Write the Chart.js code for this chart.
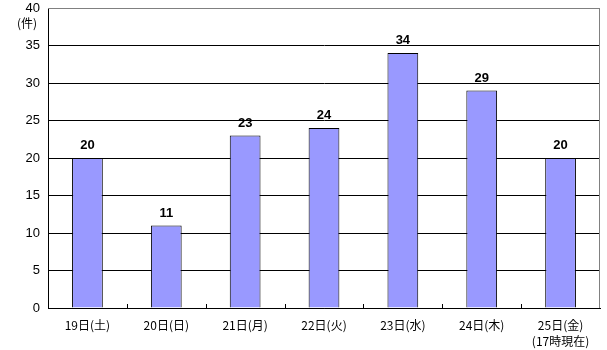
<!DOCTYPE html>
<html>
<head>
<meta charset="utf-8">
<script src="https://cdn.jsdelivr.net/npm/chart.js@4"></script>
<style>
  html, body { margin: 0; padding: 0; background: #fff; }
  #wrap { width: 607px; height: 350px; }
</style>
</head>
<body>
<div id="wrap"><canvas id="countChart" width="607" height="350"></canvas></div>
<script>
// 日別件数
var days = ['19日(土)', '20日(日)', '21日(月)', '22日(火)', '23日(水)', '24日(木)', ['25日(金)', '(17時現在)']];
var counts = [20, 11, 23, 24, 34, 29, 20];
var yTicks = [0, 5, 10, 15, 20, 25, 30, 35, 40];

var jpFont = "'Noto Sans CJK JP', 'DejaVu Sans', sans-serif";

// 棒の上の数値 + 枠線 + 単位
var extras = {
    id: 'extras',
    afterDatasetsDraw: function(chart) {
        var ctx = chart.ctx;
        var area = chart.chartArea;
        var meta = chart.getDatasetMeta(0);
        ctx.save();
        ctx.fillStyle = '#000';
        ctx.font = 'bold 13px "Liberation Sans", Arial, sans-serif';
        ctx.textAlign = 'center';
        ctx.textBaseline = 'bottom';
        meta.data.forEach(function(bar, i) {
            ctx.fillText(counts[i], bar.x, bar.y - 6);
        });

        // 上と右の枠
        ctx.strokeStyle = '#808080';
        ctx.lineWidth = 1;
        ctx.beginPath();
        ctx.moveTo(area.left, area.top + 0.5);
        ctx.lineTo(area.right - 0.5, area.top + 0.5);
        ctx.lineTo(area.right - 0.5, area.bottom);
        ctx.stroke();

        // x軸の目盛り(内向き)
        var step = (area.right - area.left) / days.length;
        ctx.strokeStyle = '#000';
        ctx.beginPath();
        for (var k = 1; k < days.length; k++) {
            var px = Math.round(area.left + step * k) + 0.5;
            ctx.moveTo(px, area.bottom);
            ctx.lineTo(px, area.bottom - 4);
        }
        ctx.stroke();

        // 単位
        ctx.font = '12px ' + jpFont;
        ctx.textAlign = 'center';
        ctx.textBaseline = 'middle';
        ctx.fillText('(件)', 27, 23);
        ctx.restore();
    }
};

var ctx1 = document.getElementById('countChart').getContext('2d');
var countChart = new Chart(ctx1, {
    type: 'bar',
    data: {
        labels: days,
        datasets: [{
            data: counts,
            backgroundColor: '#9999FF',
            borderColor: '#000',
            borderWidth: 1,
            categoryPercentage: 1,
            barPercentage: 0.39
        }]
    },
    options: {
        responsive: false,
        animation: false,
        layout: { padding: { top: 8, right: 7, left: 0, bottom: 0 } },
        plugins: {
            legend: { display: false },
            tooltip: { enabled: false }
        },
        scales: {
            x: {
                grid: { display: false },
                border: { color: '#000', width: 1 },
                ticks: {
                    color: '#000',
                    font: { size: 12, family: jpFont, lineHeight: 1.3 },
                    padding: 2,
                    maxRotation: 0,
                    autoSkip: false
                },
                afterFit: function(scale) {
                    scale.height = 42;
                    scale.paddingLeft = 0;
                    scale.paddingRight = 0;
                }
            },
            y: {
                min: 0,
                max: 40,
                afterBuildTicks: function(scale) {
                    scale.ticks = yTicks.map(function(v) { return { value: v }; });
                },
                grid: {
                    color: function(c) { return c.tick && c.tick.value === 40 ? '#808080' : '#000'; },
                    drawTicks: false
                },
                border: { color: '#000', width: 1 },
                ticks: {
                    color: '#000',
                    font: { size: 13, family: "'Liberation Sans', Arial, sans-serif" },
                    padding: 8
                },
                afterFit: function(scale) {
                    scale.width = 48;
                    scale.paddingTop = 0;
                    scale.paddingBottom = 0;
                }
            }
        }
    },
    plugins: [extras]
});
</script>
</body>
</html>
